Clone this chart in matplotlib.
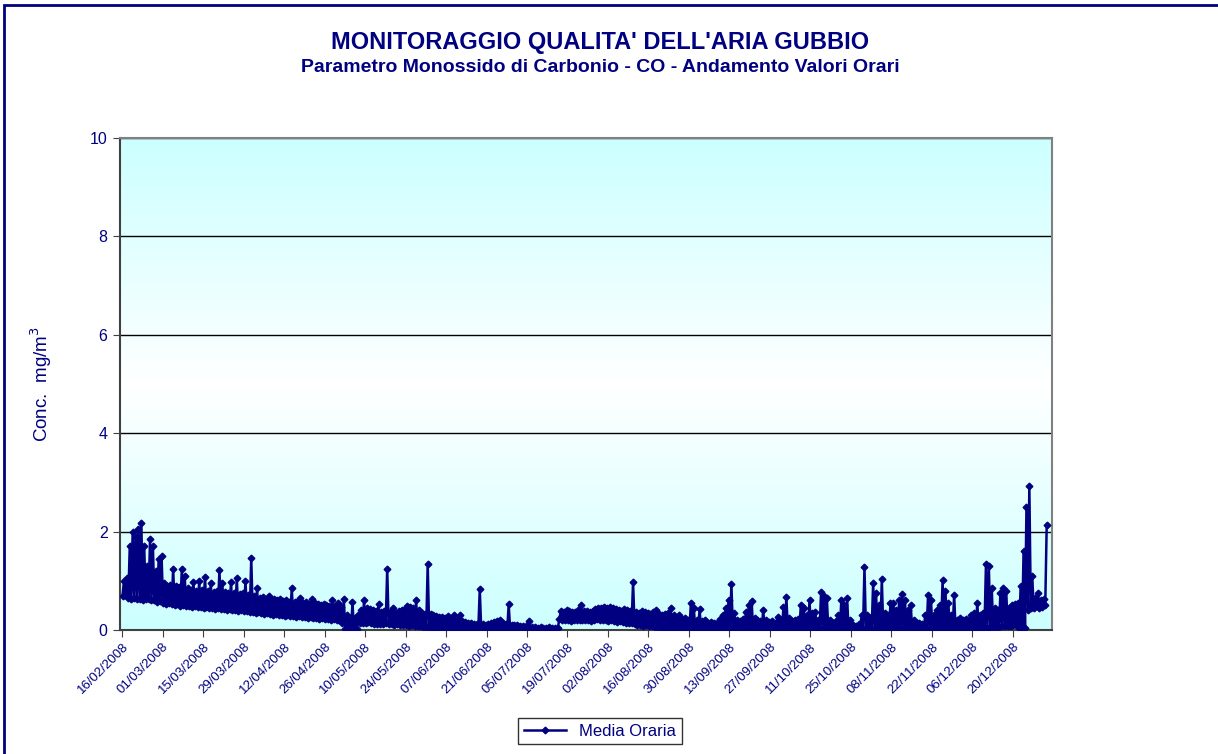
import numpy as np
import pandas as pd
import matplotlib
matplotlib.use("Agg")
import matplotlib.pyplot as plt
import matplotlib.dates as mdates
from matplotlib.colors import LinearSegmentedColormap
from matplotlib.patches import Rectangle

plt.rcParams["font.family"] = ["Liberation Sans", "DejaVu Sans"]

NAVY = "#000080"

# daily low / high of the hourly CO values (mg/m3)
feb_hi = [1.00, 1.05, 1.70, 2.00, 1.90, 2.05, 2.18, 1.70, 1.30, 1.85, 1.70, 1.20, 1.45, 1.50]
feb_lo = [0.70, 0.72, 0.66, 0.62, 0.66, 0.63, 0.64, 0.60, 0.62, 0.63, 0.60, 0.61, 0.57, 0.58]
mar_hi = [0.95, 0.90, 0.92, 1.25, 0.90, 0.88, 1.25, 1.10, 0.85, 0.82, 0.98, 0.80, 1.00, 0.82, 1.08, 0.80,
          0.95, 0.78, 0.80, 1.22, 0.95, 0.78, 0.76, 0.98, 0.75, 1.05, 0.74, 0.76, 1.00, 0.72, 1.46]
mar_lo = [0.55, 0.53, 0.54, 0.52, 0.50, 0.52, 0.49, 0.50, 0.48, 0.49, 0.47, 0.48, 0.46, 0.47, 0.45, 0.46,
          0.44, 0.45, 0.43, 0.44, 0.42, 0.43, 0.41, 0.42, 0.40, 0.41, 0.39, 0.40, 0.38, 0.39, 0.37]
apr_hi = [0.70, 0.85, 0.66, 0.68, 0.64, 0.70, 0.62, 0.63, 0.60, 0.62, 0.58, 0.60, 0.57, 0.85, 0.56,
          0.58, 0.66, 0.55, 0.56, 0.53, 0.62, 0.55, 0.52, 0.50, 0.52, 0.50, 0.48, 0.60, 0.49, 0.55]
apr_lo = [0.36, 0.35, 0.36, 0.34, 0.33, 0.35, 0.32, 0.31, 0.33, 0.30, 0.31, 0.29, 0.30, 0.28, 0.29,
          0.27, 0.28, 0.26, 0.27, 0.25, 0.26, 0.24, 0.25, 0.23, 0.24, 0.22, 0.23, 0.21, 0.22, 0.20]
may_hi = [0.47, 0.62, 0.30, 0.20, 0.57, 0.25, 0.30, 0.40, 0.60, 0.45, 0.42, 0.40, 0.38, 0.52, 0.36, 0.38,
          1.25, 0.36, 0.45, 0.35, 0.38, 0.40, 0.42, 0.48, 0.46, 0.44, 0.60, 0.40, 0.35, 0.32, 1.34]
may_lo = [0.20, 0.15, 0.02, 0.00, 0.00, 0.00, 0.02, 0.15, 0.15, 0.14, 0.16, 0.14, 0.13, 0.12, 0.13, 0.12,
          0.14, 0.13, 0.12, 0.11, 0.12, 0.11, 0.10, 0.10, 0.09, 0.10, 0.09, 0.08, 0.08, 0.07, 0.07]
jun_hi = [0.32, 0.30, 0.28, 0.27, 0.26, 0.25, 0.28, 0.22, 0.30, 0.20, 0.30, 0.18, 0.16, 0.15, 0.14,
          0.13, 0.12, 0.83, 0.12, 0.10, 0.12, 0.14, 0.16, 0.18, 0.20, 0.15, 0.12, 0.52, 0.10, 0.10]
jun_lo = [0.06, 0.05, 0.06, 0.05, 0.04, 0.05, 0.04, 0.04, 0.04, 0.03, 0.03, 0.03, 0.03, 0.02, 0.02,
          0.02, 0.02, 0.02, 0.02, 0.02, 0.02, 0.03, 0.03, 0.03, 0.03, 0.03, 0.02, 0.02, 0.02, 0.02]
jul_hi = [0.10, 0.09, 0.08, 0.09, 0.19, 0.07, 0.06, 0.05, 0.06, 0.05, 0.05, 0.06, 0.05, 0.05, 0.05, 0.38,
          0.36, 0.40, 0.38, 0.36, 0.37, 0.40, 0.50, 0.38, 0.39, 0.36, 0.38, 0.42, 0.45, 0.44, 0.46]
jul_lo = [0.02, 0.01, 0.01, 0.01, 0.01, 0.01, 0.01, 0.01, 0.01, 0.01, 0.01, 0.01, 0.01, 0.01, 0.01, 0.22,
          0.20, 0.21, 0.20, 0.19, 0.20, 0.20, 0.21, 0.20, 0.21, 0.20, 0.19, 0.20, 0.22, 0.21, 0.20]
aug_hi = [0.45, 0.46, 0.44, 0.43, 0.40, 0.38, 0.42, 0.40, 0.38, 0.98, 0.36, 0.34, 0.38, 0.36, 0.35, 0.33,
          0.37, 0.40, 0.32, 0.30, 0.33, 0.35, 0.45, 0.30, 0.25, 0.30, 0.22, 0.24, 0.20, 0.55, 0.45]
aug_lo = [0.20, 0.19, 0.20, 0.18, 0.17, 0.18, 0.16, 0.15, 0.15, 0.14, 0.12, 0.11, 0.10, 0.09, 0.10, 0.08,
          0.08, 0.07, 0.07, 0.06, 0.06, 0.05, 0.05, 0.05, 0.04, 0.04, 0.04, 0.03, 0.03, 0.03, 0.02]
sep_hi = [0.20, 0.42, 0.18, 0.20, 0.15, 0.17, 0.14, 0.15, 0.22, 0.30, 0.45, 0.60, 0.93, 0.35, 0.20,
          0.18, 0.22, 0.37, 0.50, 0.58, 0.25, 0.20, 0.18, 0.41, 0.20, 0.16, 0.18, 0.15, 0.27, 0.20]
sep_lo = [0.02, 0.02, 0.02, 0.01, 0.01, 0.02, 0.01, 0.01, 0.02, 0.02, 0.02, 0.02, 0.02, 0.02, 0.01,
          0.01, 0.02, 0.02, 0.02, 0.02, 0.02, 0.01, 0.01, 0.02, 0.01, 0.01, 0.01, 0.01, 0.02, 0.02]
oct_hi = [0.47, 0.68, 0.25, 0.18, 0.20, 0.22, 0.50, 0.45, 0.30, 0.60, 0.35, 0.37, 0.20, 0.78, 0.70, 0.65,
          0.20, 0.15, 0.18, 0.30, 0.61, 0.50, 0.65, 0.20, 0.10, 0.08, 0.12, 0.30, 1.28, 0.30, 0.25]
oct_lo = [0.02, 0.02, 0.01, 0.01, 0.01, 0.02, 0.02, 0.02, 0.02, 0.02, 0.02, 0.01, 0.01, 0.02, 0.02, 0.02,
          0.01, 0.01, 0.01, 0.02, 0.02, 0.02, 0.02, 0.01, 0.01, 0.01, 0.01, 0.01, 0.02, 0.01, 0.01]
nov_hi = [0.96, 0.75, 0.50, 1.03, 0.35, 0.30, 0.55, 0.55, 0.40, 0.60, 0.73, 0.60, 0.40, 0.50, 0.20,
          0.15, 0.15, 0.12, 0.30, 0.72, 0.60, 0.30, 0.40, 0.50, 1.01, 0.80, 0.55, 0.30, 0.72, 0.20]
nov_lo = [0.02, 0.02, 0.02, 0.02, 0.02, 0.01, 0.02, 0.02, 0.02, 0.02, 0.02, 0.02, 0.02, 0.02, 0.01,
          0.01, 0.01, 0.01, 0.01, 0.02, 0.02, 0.01, 0.02, 0.02, 0.02, 0.02, 0.02, 0.02, 0.02, 0.01]
dec_hi = [0.25, 0.20, 0.22, 0.20, 0.30, 0.35, 0.55, 0.30, 0.35, 1.34, 1.30, 0.85, 0.45, 0.40, 0.75, 0.85,
          0.80, 0.45, 0.50, 0.52, 0.55, 0.90, 1.60, 2.50, 2.93, 1.10, 0.65, 0.76, 0.60, 0.62, 2.13]
dec_lo = [0.02, 0.02, 0.02, 0.02, 0.03, 0.03, 0.04, 0.04, 0.05, 0.05, 0.05, 0.06, 0.06, 0.07, 0.07, 0.08,
          0.08, 0.08, 0.09, 0.10, 0.10, 0.05, 0.02, 0.05, 0.40, 0.45, 0.45, 0.48, 0.45, 0.47, 0.50]

daily_hi = feb_hi + mar_hi + apr_hi + may_hi + jun_hi + jul_hi + aug_hi + sep_hi + oct_hi + nov_hi + dec_hi
daily_lo = feb_lo + mar_lo + apr_lo + may_lo + jun_lo + jul_lo + aug_lo + sep_lo + oct_lo + nov_lo + dec_lo

days = pd.date_range("2008-02-16", "2008-12-31", freq="D")
assert len(days) == len(daily_hi) == len(daily_lo)

# night low, afternoon high for every day
times = []
values = []
for day, lo, hi in zip(days, daily_lo, daily_hi):
    times += [day + pd.Timedelta(hours=4), day + pd.Timedelta(hours=16)]
    values += [lo, hi]

tick_dates = pd.date_range("2008-02-16", "2008-12-31", freq="14D")

fig = plt.figure(figsize=(12.18, 7.54), dpi=100)
ax = fig.add_axes([120 / 1218, 1 - 630 / 754, 932 / 1218, 492 / 754])

# outer frame
fig.patches.append(Rectangle((4 / 1218, -0.05), 1.2, 1.05 - 5 / 754, transform=fig.transFigure,
                             fill=False, edgecolor=NAVY, linewidth=2, zorder=0))

# background gradient cyan -> white -> cyan
cmap = LinearSegmentedColormap.from_list("bg", ["#ccffff", "#ffffff", "#ccffff"])
ax.imshow(np.linspace(0, 1, 256).reshape(-1, 1), cmap=cmap, aspect="auto",
          extent=[0, 1, 0, 1], transform=ax.transAxes, zorder=0)

ax.plot(times, values, color=NAVY, linewidth=1.8, marker="D", markersize=3.4,
        label="Media Oraria", zorder=3)

ax.set_ylim(0, 10)
ax.set_yticks([0, 2, 4, 6, 8, 10])
ax.set_xlim(pd.Timestamp("2008-02-16") - pd.Timedelta(hours=17), pd.Timestamp("2009-01-02 12:00"))
ax.set_xticks(tick_dates)
ax.xaxis.set_major_formatter(mdates.DateFormatter("%d/%m/%Y"))
ax.grid(axis="y", color="black", linewidth=1, zorder=1)
ax.set_axisbelow(True)

for lab in ax.get_xticklabels():
    lab.set_rotation(45)
    lab.set_ha("right")
    lab.set_rotation_mode("anchor")
ax.tick_params(axis="x", labelsize=9.5, labelcolor=NAVY, direction="out", length=5, color="#404040", pad=3)
ax.tick_params(axis="y", labelsize=11.5, labelcolor=NAVY, direction="out", length=5, color="#404040", pad=4)

for side in ("top", "right"):
    ax.spines[side].set_color("#808080")
    ax.spines[side].set_linewidth(1.5)
for side in ("left", "bottom"):
    ax.spines[side].set_color("#404040")
    ax.spines[side].set_linewidth(1.5)

ax.set_ylabel("Conc.  mg/m$^3$", fontsize=13.5, color=NAVY, labelpad=26)

fig.text(0.4926, 1 - 43 / 754, "MONITORAGGIO QUALITA' DELL'ARIA GUBBIO", ha="center", va="center",
         fontsize=17, fontweight="bold", color=NAVY)
fig.text(0.4926, 1 - 68 / 754, "Parametro Monossido di Carbonio - CO - Andamento Valori Orari",
         ha="center", va="center", fontsize=14, fontweight="bold", color=NAVY)

leg = fig.legend(loc="center", bbox_to_anchor=(600 / 1218, 1 - 731 / 754), frameon=True,
                 fancybox=False, fontsize=12, handlelength=2.5, borderpad=0.35)
leg.get_frame().set_edgecolor("black")
leg.get_frame().set_linewidth(1)
for t in leg.get_texts():
    t.set_color(NAVY)

fig.savefig("out.png", dpi=100)
